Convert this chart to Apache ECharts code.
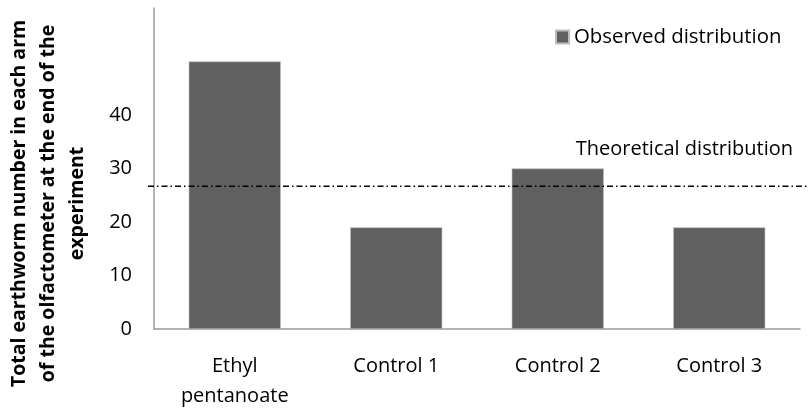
<!DOCTYPE html>
<html>
<head>
<meta charset="utf-8">
<script src="https://cdn.jsdelivr.net/npm/echarts@6/dist/echarts.min.js"></script>
<style>
html,body{margin:0;padding:0;background:#fff;}
#chart{width:812px;height:409px;}
</style>
</head>
<body>
<div id="chart"></div>
<script>
const categories = ['Ethyl\npentanoate', 'Control 1', 'Control 2', 'Control 3'];
const observed = [50, 19, 30, 19];
const theoretical = 26.7;
const yTickMaxShown = 40;

const FONT = '"Open Sans", "Liberation Sans", sans-serif';
const chart = echarts.init(document.getElementById('chart'));
chart.setOption({
  backgroundColor: '#ffffff',
  animation: false,
  textStyle: { fontFamily: FONT },
  legend: {
    data: ['Observed distribution'],
    left: 550, top: 22,
    icon: 'rect', itemWidth: 13, itemHeight: 13, itemGap: 6,
    textStyle: { fontFamily: FONT, fontSize: 20.4, color: '#000' }
  },
  grid: [
    { left: 154, right: 12, top: 8, bottom: 80, containLabel: false, outerBoundsMode: 'none' },
    { left: 148, right: 4, top: 8, bottom: 80, containLabel: false, outerBoundsMode: 'none' }
  ],
  xAxis: [
    {
      type: 'category', gridIndex: 0, data: categories,
      axisLine: { lineStyle: { color: '#9a9a9a', width: 1.5 } },
      axisTick: { show: false },
      axisLabel: { color: '#000', fontSize: 20, fontFamily: FONT, lineHeight: 30, margin: 22, interval: 0 }
    },
    { type: 'value', gridIndex: 1, min: 0, max: 1, show: false }
  ],
  yAxis: [
    {
      type: 'value', gridIndex: 0, min: 0, max: 60, interval: 10,
      axisLine: { show: true, lineStyle: { color: '#9a9a9a', width: 1.5 } },
      axisTick: { show: false },
      splitLine: { show: false },
      axisLabel: {
        color: '#000', fontSize: 20, fontFamily: FONT, margin: 22,
        formatter: v => (v <= yTickMaxShown ? String(v) : '')
      },
      name: 'Total earthworm number in each arm\nof the olfactometer at the end of the\nexperiment',
      nameLocation: 'middle', nameRotate: 90, nameGap: 62,
      nameTextStyle: { fontFamily: FONT, fontSize: 19.5, fontWeight: 'bold', color: '#000', lineHeight: 29, padding: [0, 70, 0, 0] }
    },
    { type: 'value', gridIndex: 1, min: 0, max: 60, show: false }
  ],
  series: [
    {
      name: 'Observed distribution', type: 'bar',
      xAxisIndex: 0, yAxisIndex: 0,
      data: observed, barWidth: '57%',
      itemStyle: { color: '#606060', borderColor: '#bdbdbd', borderWidth: 0.6 }
    },
    {
      name: 'Theoretical distribution', type: 'line',
      xAxisIndex: 1, yAxisIndex: 1,
      data: [[0, theoretical], [1, theoretical]],
      symbol: 'none',
      lineStyle: { color: '#000', width: 1.5, type: [6, 3, 1.5, 3] },
      silent: true
    }
  ],
  graphic: [
    {
      type: 'text', right: 19, top: 139,
      style: { text: 'Theoretical distribution', font: '20px ' + FONT, fill: '#000' }
    }
  ]
});
</script>
</body>
</html>
